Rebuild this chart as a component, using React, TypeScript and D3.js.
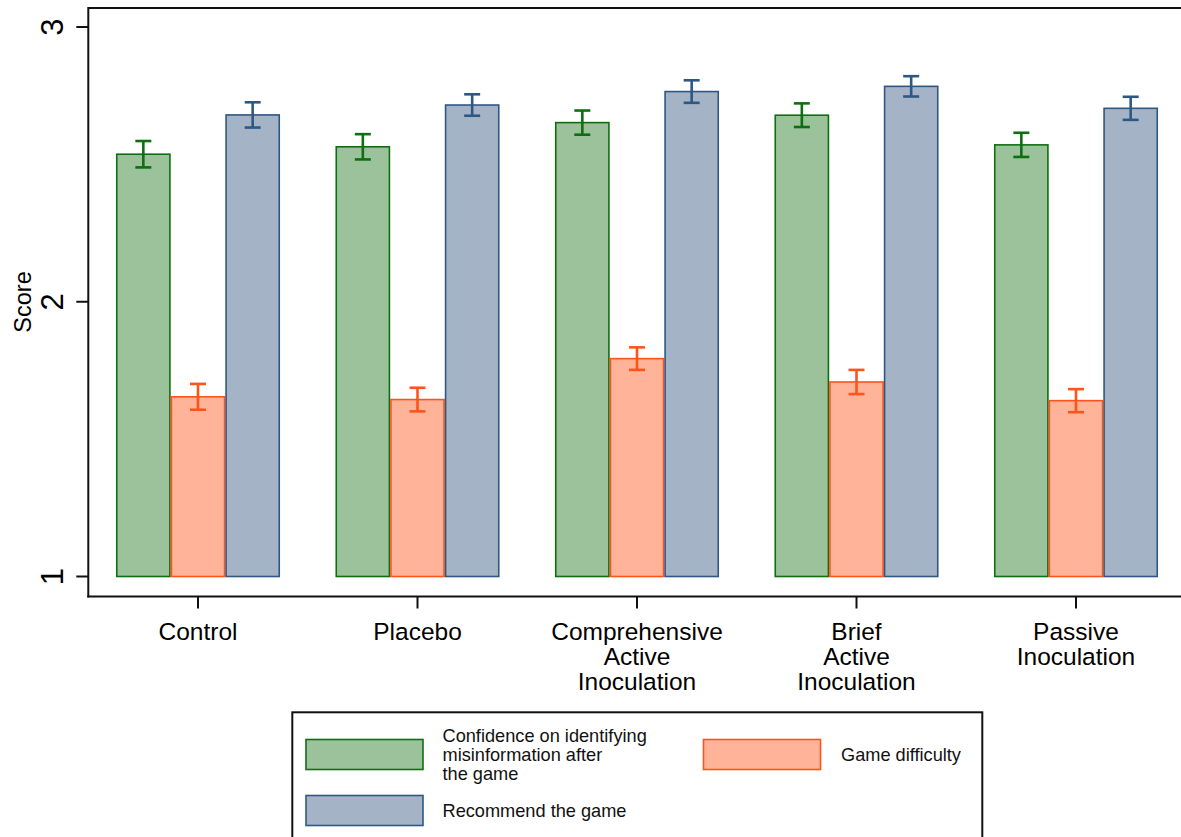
import React from "react";
import * as d3 from "d3";

// Groups along the x axis (multi-line labels)
const categories = ["Control", "Placebo", "Comprehensive Active Inoculation", "Brief Active Inoculation", "Passive Inoculation"];
const categoryLines = [["Control"], ["Placebo"], ["Comprehensive", "Active", "Inoculation"], ["Brief", "Active", "Inoculation"], ["Passive", "Inoculation"]];

// Series: mean scores and half-width of the error bars
const seriesKeys = ["confidence", "difficulty", "recommend"];
const confidenceMean = [2.537, 2.564, 2.652, 2.679, 2.571];
const confidenceErr = [0.048, 0.046, 0.044, 0.043, 0.044];
const difficultyMean = [1.654, 1.644, 1.793, 1.708, 1.640];
const difficultyErr = [0.047, 0.043, 0.041, 0.044, 0.042];
const recommendMean = [2.680, 2.716, 2.765, 2.784, 2.704];
const recommendErr = [0.046, 0.039, 0.041, 0.037, 0.042];

const yTicks = [1, 2, 3];

const legendLabels: Record<string, string[]> = {
  confidence: ["Confidence on identifying", "misinformation after", "the game"],
  difficulty: ["Game difficulty"],
  recommend: ["Recommend the game"],
};

const styles: Record<string, { fill: string; stroke: string }> = {
  confidence: { fill: "#9bc29a", stroke: "#0f6e12" },
  difficulty: { fill: "#ffb398", stroke: "#ff5419" },
  recommend: { fill: "#a4b4c6", stroke: "#2f5784" },
};

const FONT = "'Liberation Sans', Arial, Helvetica, sans-serif";

export default function App() {
  const width = 1181;
  const height = 837;
  const axisX = 88.3;
  const topY = 8;
  const bottomY = 596.5;

  const y = d3.scaleLinear().domain([1, 3]).range([576.5, 27]);
  const x = d3.scalePoint<string>().domain(categories).range([198, 1076]);
  const inner = d3.scaleBand<string>().domain(seriesKeys).range([-82, 82]).padding(0);

  const data: Record<string, { mean: number[]; err: number[] }> = {
    confidence: { mean: confidenceMean, err: confidenceErr },
    difficulty: { mean: difficultyMean, err: difficultyErr },
    recommend: { mean: recommendMean, err: recommendErr },
  };

  const capHalf = 8;

  return (
    <svg
      width={width}
      height={height}
      style={{ position: "absolute", left: 0, top: 0, background: "#fff", fontFamily: FONT }}
    >
      <rect x={0} y={0} width={width} height={height} fill="#fff" />

      {/* bars */}
      {seriesKeys.map((key) =>
        categories.map((cat, i) => {
          const v = data[key].mean[i];
          const bx = (x(cat) as number) + (inner(key) as number);
          const bw = inner.bandwidth();
          return (
            <rect
              key={key + i}
              x={bx + 0.75}
              y={y(v)}
              width={bw - 1.5}
              height={y(1) - y(v)}
              fill={styles[key].fill}
              stroke={styles[key].stroke}
              strokeWidth={1.6}
            />
          );
        })
      )}

      {/* error bars */}
      {seriesKeys.map((key) =>
        categories.map((cat, i) => {
          const v = data[key].mean[i];
          const e = data[key].err[i];
          const cx = (x(cat) as number) + (inner(key) as number) + inner.bandwidth() / 2;
          const y0 = y(v - e);
          const y1 = y(v + e);
          const c = styles[key].stroke;
          return (
            <g key={"e" + key + i} stroke={c} strokeWidth={2.6} fill="none">
              <line x1={cx} x2={cx} y1={y0} y2={y1} />
              <line x1={cx - capHalf} x2={cx + capHalf} y1={y0} y2={y0} />
              <line x1={cx - capHalf} x2={cx + capHalf} y1={y1} y2={y1} />
            </g>
          );
        })
      )}

      {/* plot frame */}
      <line x1={axisX} x2={width} y1={topY} y2={topY} stroke="#111" strokeWidth={2} />
      <line x1={axisX} x2={axisX} y1={topY - 1} y2={bottomY + 1} stroke="#111" strokeWidth={2} />
      <line x1={axisX - 1} x2={width} y1={bottomY} y2={bottomY} stroke="#111" strokeWidth={2} />

      {/* y axis ticks and labels */}
      {yTicks.map((t) => (
        <g key={"yt" + t}>
          <line x1={axisX - 12} x2={axisX} y1={y(t)} y2={y(t)} stroke="#111" strokeWidth={2} />
          <text
            transform={`translate(63,${y(t)}) rotate(-90)`}
            textAnchor="middle"
            fontSize={31}
            fill="#000"
          >
            {t}
          </text>
        </g>
      ))}
      <text transform={`translate(31,302) rotate(-90)`} textAnchor="middle" fontSize={23.5} fill="#000">
        Score
      </text>

      {/* x axis ticks and labels */}
      {categories.map((cat, i) => (
        <g key={"xt" + i}>
          <line x1={x(cat)} x2={x(cat)} y1={bottomY} y2={bottomY + 12} stroke="#111" strokeWidth={2} />
          {categoryLines[i].map((ln, j) => (
            <text key={j} x={x(cat)} y={640 + j * 25} textAnchor="middle" fontSize={24.5} fill="#000">
              {ln}
            </text>
          ))}
        </g>
      ))}

      {/* legend */}
      <rect x={292.3} y={712.3} width={690} height={140} fill="#fff" stroke="#111" strokeWidth={2} />
      {[
        { key: "confidence", kx: 306, ky: 739.5, tx: 442.5 },
        { key: "difficulty", kx: 703.5, ky: 739.5, tx: 841 },
        { key: "recommend", kx: 306, ky: 795.5, tx: 442.5 },
      ].map(({ key, kx, ky, tx }) => {
        const lines = legendLabels[key];
        const cy = ky + 15;
        const lh = 18.7;
        const first = cy + 6.5 - ((lines.length - 1) / 2) * lh;
        return (
          <g key={"lg" + key}>
            <rect x={kx} y={ky} width={117} height={30} fill={styles[key].fill} stroke={styles[key].stroke} strokeWidth={1.6} />
            {lines.map((ln, j) => (
              <text key={j} x={tx} y={first + j * lh} fontSize={18.2} fill="#111">
                {ln}
              </text>
            ))}
          </g>
        );
      })}
    </svg>
  );
}
